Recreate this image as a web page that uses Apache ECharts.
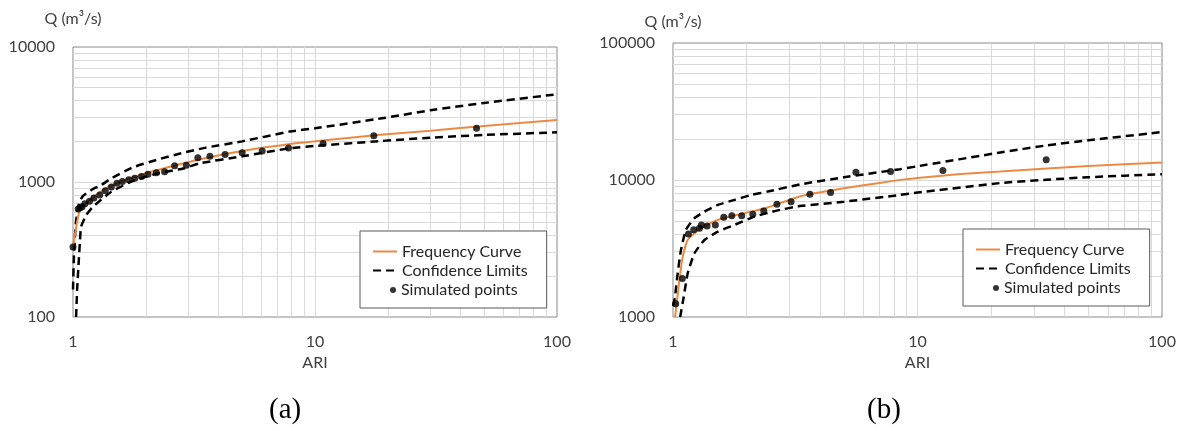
<!DOCTYPE html>
<html>
<head>
<meta charset="utf-8">
<script src="https://cdn.jsdelivr.net/npm/echarts@6/dist/echarts.min.js"></script>
<style>
  html, body { margin: 0; padding: 0; background: #fff; }
  #main { width: 1185px; height: 431px; }
</style>
</head>
<body>
<div id="main"></div>
<script>
// ---- data: [ARI, Q] ----
var aFreq = [[1.0, 332], [1.066, 621], [1.15, 714], [1.31, 857], [1.53, 988], [2.0, 1160], [2.47, 1285],
  [3.39, 1480], [5, 1700], [8.67, 1950], [10, 2000], [18.6, 2240], [30, 2400], [50, 2600], [100, 2877]];
var aUpper = [[1.0, 160], [1.01, 300], [1.03, 520], [1.06, 700], [1.1, 790], [1.2, 880], [1.31, 950],
  [1.44, 1065], [1.77, 1285], [2.21, 1456], [2.8, 1635], [3.5, 1790], [5, 2000], [7.87, 2365], [10, 2500],
  [18.6, 2950], [30, 3400], [50, 3850], [100, 4467]];
var aLower = [[1.03, 100], [1.04, 160], [1.055, 250], [1.069, 372], [1.08, 467], [1.135, 570], [1.21, 656],
  [1.44, 847], [1.8, 1034], [2.25, 1160], [2.89, 1265], [3.35, 1378], [5, 1550], [7.87, 1779], [10, 1850],
  [18.6, 2010], [30, 2130], [50, 2230], [100, 2335]];
var aPoints = [[1.0, 330], [1.05, 630], [1.07, 645], [1.09, 655], [1.12, 690], [1.17, 720], [1.22, 760],
  [1.29, 800], [1.36, 860], [1.44, 920], [1.52, 980], [1.6, 1010], [1.7, 1040], [1.8, 1065], [1.92, 1100],
  [2.04, 1140], [2.21, 1170], [2.39, 1190], [2.63, 1320], [2.94, 1330], [3.28, 1510], [3.68, 1550],
  [4.25, 1600], [5.0, 1645], [6.05, 1700], [7.77, 1785], [10.8, 1930], [17.5, 2200], [46.5, 2500]];

var bFreq = [[1.02, 1000], [1.062, 1860], [1.096, 2760], [1.148, 3650], [1.30, 4450], [1.525, 5120],
  [2.0, 5780], [2.44, 6300], [3.3, 7580], [5, 8690], [7, 9520], [8.49, 10020], [10, 10350], [15, 11040],
  [21.8, 11530], [33.8, 12150], [50, 12630], [100, 13410]];
var bUpper = [[1.0, 1200], [1.019, 1400], [1.045, 2080], [1.078, 3090], [1.13, 4330], [1.224, 5260],
  [1.345, 5880], [1.525, 6580], [1.783, 7160], [2.09, 7780], [2.44, 8230], [3.32, 9300], [5, 10460],
  [8.49, 12000], [10, 12600], [21.8, 15870], [33.8, 17900], [50, 19500], [100, 22380]];
var bLower = [[1.07, 1000], [1.106, 1400], [1.148, 2080], [1.224, 2920], [1.345, 3650], [1.525, 4200],
  [1.783, 4700], [2.15, 5400], [2.68, 6000], [3.3, 6450], [5, 6940], [8.49, 7780], [10, 8090],
  [21.8, 9500], [33.8, 10050], [50, 10480], [100, 11030]];
var bPoints = [[1.026, 1250], [1.092, 1910], [1.156, 4040], [1.215, 4330], [1.283, 4450], [1.307, 4700],
  [1.378, 4620], [1.49, 4700], [1.613, 5350], [1.74, 5490], [1.91, 5490], [2.12, 5630], [2.35, 5950],
  [2.66, 6660], [3.04, 6930], [3.63, 7880], [4.41, 8090], [5.6, 11400], [7.76, 11530], [12.7, 11720],
  [33.6, 14030]];

// grid lines of the log paper
var xGridLines = [2, 3, 4, 5, 6, 7, 8, 9, 10, 20, 30, 40, 50, 60, 70, 80, 90];
var aYGridLines = [200, 300, 400, 500, 600, 700, 800, 900, 1000, 2000, 3000, 4000, 5000, 6000, 7000, 8000, 9000];
var bYGridLines = [2000, 3000, 4000, 5000, 6000, 7000, 8000, 9000, 10000, 20000, 30000, 40000, 50000,
  60000, 70000, 80000, 90000];

var ORANGE = '#ec8a43';
var FONT = 'Lato, "Open Sans", sans-serif';
var labelStyle = { fontFamily: FONT, fontSize: 16, color: '#404040' };

function gridLineSeries(idx, yLines) {
  var d = [];
  xGridLines.forEach(function (v) { d.push({ xAxis: v }); });
  yLines.forEach(function (v) { d.push({ yAxis: v }); });
  return {
    type: 'line', xAxisIndex: idx, yAxisIndex: idx, data: [], z: 1, silent: true,
    markLine: {
      silent: true, symbol: 'none', animation: false, z: 1,
      label: { show: false },
      lineStyle: { color: '#d9d9d9', type: 'solid', width: 1 },
      emphasis: { disabled: true },
      data: d
    }
  };
}

function xAxisOf(idx) {
  return {
    gridIndex: idx, type: 'log', logBase: 10, min: 1, max: 100,
    name: 'ARI', nameLocation: 'middle', nameGap: 37,
    nameTextStyle: { fontFamily: FONT, fontSize: 16, color: '#404040' },
    axisLine: { show: false }, axisTick: { show: false }, splitLine: { show: false },
    axisLabel: Object.assign({ margin: 17, formatter: function (v) { return String(Math.round(v)); } }, labelStyle)
  };
}

function yAxisOf(idx, min, max, gap) {
  return {
    gridIndex: idx, type: 'log', logBase: 10, min: min, max: max,
    name: 'Q (m³/s)', nameLocation: 'end', nameGap: gap,
    nameTextStyle: { fontFamily: FONT, fontSize: 16, color: '#404040', align: 'center' },
    axisLine: { show: false }, axisTick: { show: false }, splitLine: { show: false },
    axisLabel: Object.assign({ margin: 18, formatter: function (v) { return String(Math.round(v)); } }, labelStyle)
  };
}

function curves(idx, freq, upper, lower, pts) {
  var dash = { color: '#000', width: 2.5, type: [8, 5] };
  var common = { type: 'line', xAxisIndex: idx, yAxisIndex: idx, symbol: 'none', smooth: 0.15 };
  return [
    Object.assign({ name: 'Frequency Curve', data: freq, z: 4,
      lineStyle: { color: ORANGE, width: 2 }, itemStyle: { color: ORANGE } }, common),
    Object.assign({ name: 'Confidence Limits', data: upper, z: 3, lineStyle: dash, itemStyle: { color: '#000' } }, common),
    Object.assign({ name: 'Confidence Limits', data: lower, z: 3, lineStyle: dash, itemStyle: { color: '#000' } }, common),
    { name: 'Simulated points', type: 'scatter', xAxisIndex: idx, yAxisIndex: idx, data: pts, z: 5,
      symbol: 'circle', symbolSize: 7, itemStyle: { color: '#000' } }
  ];
}

function legendsAt(left, top) {
  var txt = { fontFamily: FONT, fontSize: 16, color: '#262626', lineHeight: 19 };
  return [
    { data: ['Frequency Curve', 'Confidence Limits'], orient: 'vertical', left: left, top: top, z: 10,
      padding: [11, 19, 28, 12], itemGap: 0, itemWidth: 24, itemHeight: 14,
      itemStyle: { opacity: 0 },
      borderColor: '#595959', borderWidth: 1, backgroundColor: '#fff', textStyle: txt,
      selectedMode: false },
    { data: [{ name: 'Simulated points', icon: 'circle' }], orient: 'vertical', left: left + 30, top: top + 49.5,
      padding: 0, itemWidth: 6, itemHeight: 6, textStyle: txt, selectedMode: false, z: 11 }
  ];
}

var chart = echarts.init(document.getElementById('main'), null, { renderer: 'canvas' });

var option = {
  animation: false,
  backgroundColor: '#fff',
  grid: [
    { left: 73, top: 47, width: 484, height: 270, show: true, borderColor: '#898989', borderWidth: 1 },
    { left: 673, top: 43, width: 489, height: 274, show: true, borderColor: '#898989', borderWidth: 1 }
  ],
  xAxis: [xAxisOf(0), xAxisOf(1)],
  yAxis: [yAxisOf(0, 100, 10000, 20), yAxisOf(1, 1000, 100000, 13)],
  legend: legendsAt(360, 231).concat(legendsAt(963, 229)),
  graphic: [
    { type: 'text', left: 269, top: 396, style: { text: '(a)', font: '29px "Liberation Serif", serif', fill: '#000' } },
    { type: 'text', left: 867, top: 396, style: { text: '(b)', font: '29px "Liberation Serif", serif', fill: '#000' } }
  ],
  series: [gridLineSeries(0, aYGridLines), gridLineSeries(1, bYGridLines)]
    .concat(curves(0, aFreq, aUpper, aLower, aPoints))
    .concat(curves(1, bFreq, bUpper, bLower, bPoints))
};

chart.setOption(option);
</script>
</body>
</html>
